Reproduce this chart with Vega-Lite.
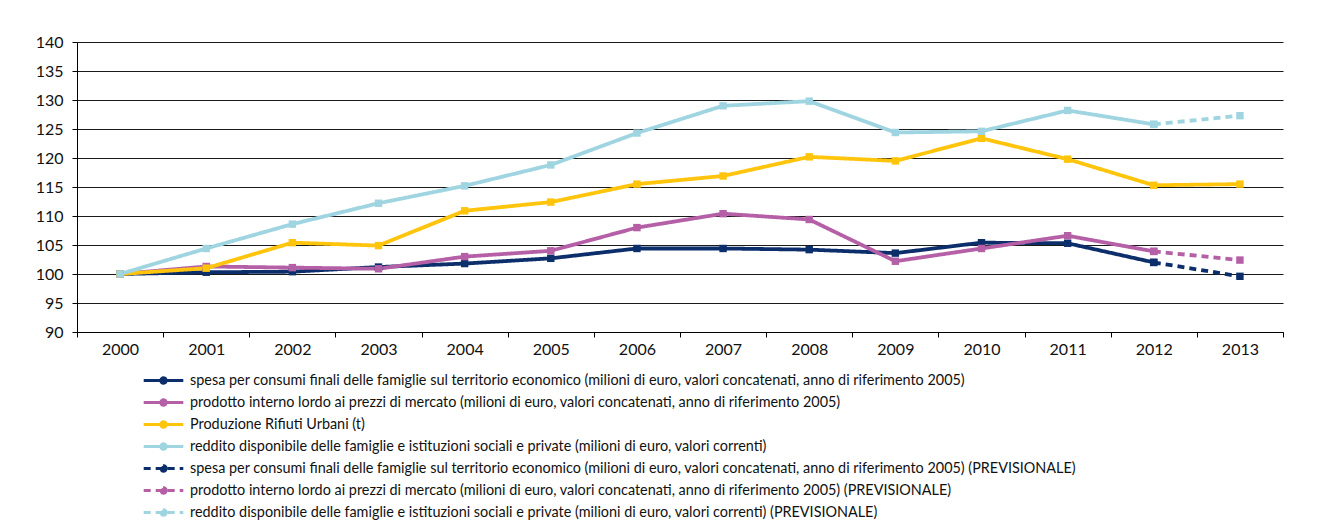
{
  "$schema": "https://vega.github.io/schema/vega-lite/v6.json",
  "width": 1206,
  "height": 290,
  "autosize": {"type": "none"},
  "padding": {"left": 77, "top": 42, "right": 42, "bottom": 198},
  "background": "white",
  "config": {
    "font": "Lato",
    "view": {"stroke": null},
    "axis": {"labelFont": "Lato", "labelFontSize": 16, "labelColor": "#111", "domainColor": "#000", "tickColor": "#000", "tickSize": 5, "title": null}
  },
  "data": {
    "values": [
      {"anno": "2000", "serie": "s1", "valore": 100},
      {"anno": "2001", "serie": "s1", "valore": 100.3},
      {"anno": "2002", "serie": "s1", "valore": 100.4},
      {"anno": "2003", "serie": "s1", "valore": 101.2},
      {"anno": "2004", "serie": "s1", "valore": 101.8},
      {"anno": "2005", "serie": "s1", "valore": 102.7},
      {"anno": "2006", "serie": "s1", "valore": 104.4},
      {"anno": "2007", "serie": "s1", "valore": 104.4},
      {"anno": "2008", "serie": "s1", "valore": 104.2},
      {"anno": "2009", "serie": "s1", "valore": 103.6},
      {"anno": "2010", "serie": "s1", "valore": 105.4},
      {"anno": "2011", "serie": "s1", "valore": 105.3},
      {"anno": "2012", "serie": "s1", "valore": 102.0},
      {"anno": "2000", "serie": "s2", "valore": 100},
      {"anno": "2001", "serie": "s2", "valore": 101.3},
      {"anno": "2002", "serie": "s2", "valore": 101.1},
      {"anno": "2003", "serie": "s2", "valore": 100.9},
      {"anno": "2004", "serie": "s2", "valore": 103.0},
      {"anno": "2005", "serie": "s2", "valore": 104.0},
      {"anno": "2006", "serie": "s2", "valore": 108.0},
      {"anno": "2007", "serie": "s2", "valore": 110.4},
      {"anno": "2008", "serie": "s2", "valore": 109.4},
      {"anno": "2009", "serie": "s2", "valore": 102.2},
      {"anno": "2010", "serie": "s2", "valore": 104.4},
      {"anno": "2011", "serie": "s2", "valore": 106.6},
      {"anno": "2012", "serie": "s2", "valore": 103.9},
      {"anno": "2000", "serie": "s3", "valore": 100},
      {"anno": "2001", "serie": "s3", "valore": 101.0},
      {"anno": "2002", "serie": "s3", "valore": 105.4},
      {"anno": "2003", "serie": "s3", "valore": 104.9},
      {"anno": "2004", "serie": "s3", "valore": 110.9},
      {"anno": "2005", "serie": "s3", "valore": 112.4},
      {"anno": "2006", "serie": "s3", "valore": 115.5},
      {"anno": "2007", "serie": "s3", "valore": 116.9},
      {"anno": "2008", "serie": "s3", "valore": 120.2},
      {"anno": "2009", "serie": "s3", "valore": 119.5},
      {"anno": "2010", "serie": "s3", "valore": 123.4},
      {"anno": "2011", "serie": "s3", "valore": 119.8},
      {"anno": "2012", "serie": "s3", "valore": 115.3},
      {"anno": "2013", "serie": "s3", "valore": 115.5},
      {"anno": "2000", "serie": "s4", "valore": 100},
      {"anno": "2001", "serie": "s4", "valore": 104.4},
      {"anno": "2002", "serie": "s4", "valore": 108.6},
      {"anno": "2003", "serie": "s4", "valore": 112.2},
      {"anno": "2004", "serie": "s4", "valore": 115.2},
      {"anno": "2005", "serie": "s4", "valore": 118.8},
      {"anno": "2006", "serie": "s4", "valore": 124.3},
      {"anno": "2007", "serie": "s4", "valore": 129.0},
      {"anno": "2008", "serie": "s4", "valore": 129.8},
      {"anno": "2009", "serie": "s4", "valore": 124.4},
      {"anno": "2010", "serie": "s4", "valore": 124.6},
      {"anno": "2011", "serie": "s4", "valore": 128.2},
      {"anno": "2012", "serie": "s4", "valore": 125.8},
      {"anno": "2012", "serie": "s5", "valore": 102.0},
      {"anno": "2013", "serie": "s5", "valore": 99.6},
      {"anno": "2012", "serie": "s6", "valore": 103.9},
      {"anno": "2013", "serie": "s6", "valore": 102.4},
      {"anno": "2012", "serie": "s7", "valore": 125.8},
      {"anno": "2013", "serie": "s7", "valore": 127.3}
    ]
  },
  "encoding": {
    "x": {
      "field": "anno", "type": "ordinal",
      "scale": {"type": "band", "domain": ["2000","2001","2002","2003","2004","2005","2006","2007","2008","2009","2010","2011","2012","2013"], "paddingInner": 0, "paddingOuter": 0},
      "axis": {"labelAngle": 0, "tickBand": "extent", "grid": false, "labelPadding": 4}
    },
    "y": {
      "field": "valore", "type": "quantitative",
      "scale": {"domain": [90, 140], "nice": false, "zero": false},
      "axis": {"values": [90,95,100,105,110,115,120,125,130,135,140], "grid": true, "gridColor": "#1a1a1a", "gridWidth": 1, "gridOpacity": 1, "labelPadding": 9}
    },
    "color": {
      "field": "serie", "type": "nominal",
      "scale": {
        "domain": ["s1","s2","s3","s4","s5","s6","s7"],
        "range": ["#0c2f6c","#b45fa6","#ffc40c","#9fd4e1","#0c2f6c","#b45fa6","#9fd4e1"]
      },
      "legend": {
        "orient": "none", "legendX": 54, "legendY": 328,
        "direction": "vertical", "title": null, "padding": 0,
        "symbolType": "M-2.2,0H2.2M0.3,0A0.3,0.3 0 1,1 -0.3,0A0.3,0.3 0 1,1 0.3,0Z",
        "symbolSize": 324, "symbolStrokeWidth": 3, "symbolOffset": 22,
        "labelOffset": 16, "labelFontSize": 14.4, "labelColor": "#111", "labelLimit": 1200,
        "rowPadding": 2,
        "labelExpr": "datum.value == 's1' ? 'spesa per consumi finali delle famiglie sul territorio economico (milioni di euro, valori concatenati, anno di riferimento 2005)' : datum.value == 's2' ? 'prodotto interno lordo ai prezzi di mercato (milioni di euro, valori concatenati, anno di riferimento 2005)' : datum.value == 's3' ? 'Produzione Rifiuti Urbani (t)' : datum.value == 's4' ? 'reddito disponibile delle famiglie e istituzioni sociali e private (milioni di euro, valori correnti)' : datum.value == 's5' ? 'spesa per consumi finali delle famiglie sul territorio economico (milioni di euro, valori concatenati, anno di riferimento 2005) (PREVISIONALE)' : datum.value == 's6' ? 'prodotto interno lordo ai prezzi di mercato (milioni di euro, valori concatenati, anno di riferimento 2005) (PREVISIONALE)' : 'reddito disponibile delle famiglie e istituzioni sociali e private (milioni di euro, valori correnti) (PREVISIONALE)'",
        "encode": {"symbols": {"update": {"fill": {"scale": "color", "field": "value"}, "fillOpacity": {"value": 1}}}}
      }
    }
  },
  "layer": [
    {
      "mark": {"type": "line", "strokeWidth": 3.8},
      "encoding": {
        "strokeDash": {
          "field": "serie", "type": "nominal",
          "scale": {"domain": ["s1","s2","s3","s4","s5","s6","s7"], "range": [[1,0],[1,0],[1,0],[1,0],[7,5],[7,5],[7,5]]},
          "legend": null
        }
      }
    },
    {
      "mark": {"type": "point", "shape": "square", "filled": true, "size": 55, "opacity": 1}
    }
  ]
}
